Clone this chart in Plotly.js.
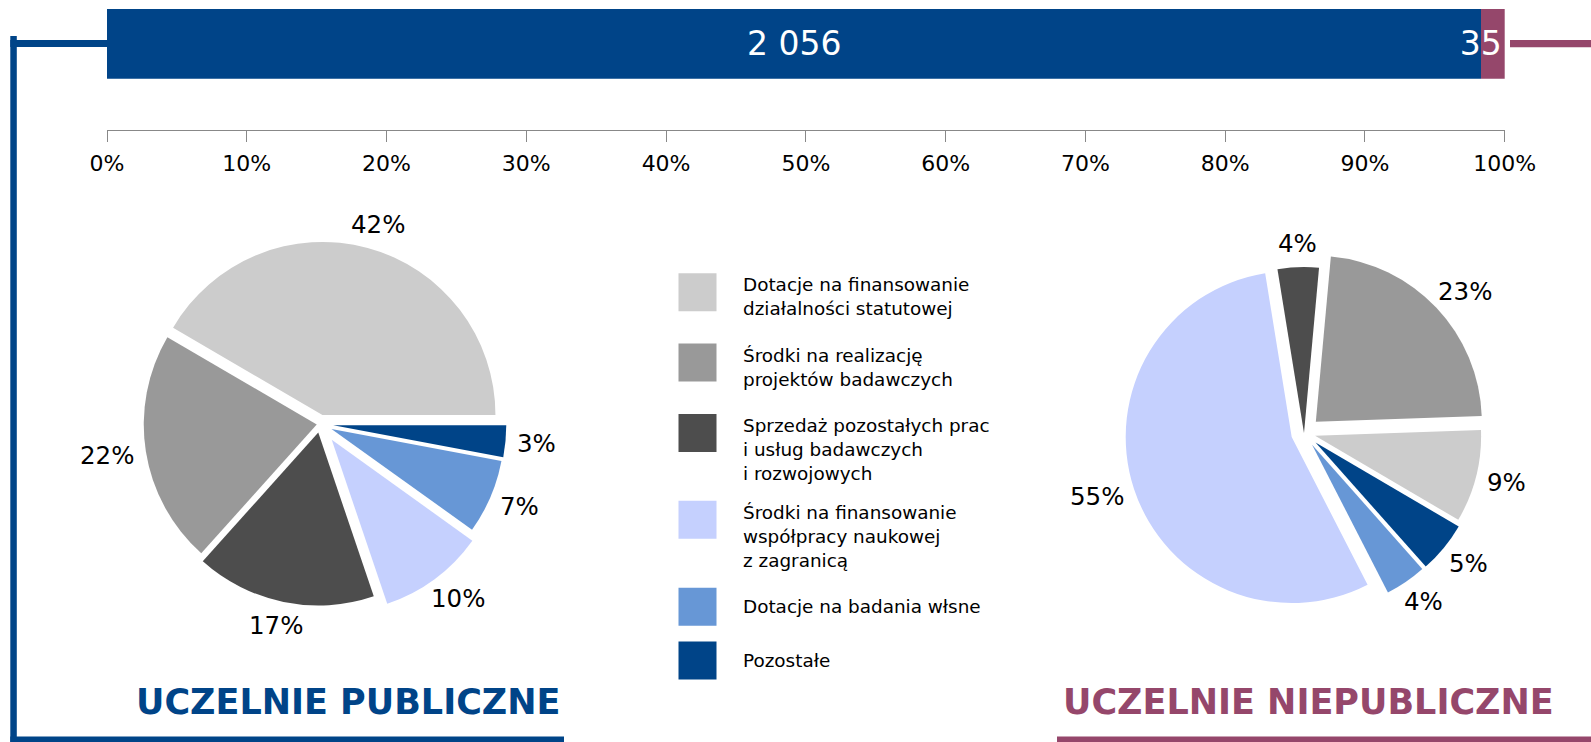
<!DOCTYPE html>
<html>
<head>
<meta charset="utf-8">
<script src="https://cdn.plot.ly/plotly-3.0.1.min.js"></script>
<style>
  html, body { margin: 0; padding: 0; background: #ffffff; }
  #chart { width: 1591px; height: 742px; }
</style>
</head>
<body>
<div id="chart"></div>
<script>
// ---------- DATA ----------
const categories = [
  'Dotacje na finansowanie<br>działalności statutowej',
  'Środki na realizację<br>projektów badawczych',
  'Sprzedaż pozostałych prac<br>i usług badawczych<br>i rozwojowych',
  'Środki na finansowanie<br>współpracy naukowej<br>z zagranicą',
  'Dotacje na badania włsne',
  'Pozostałe'
];
const publicShares  = [42, 22, 17, 10, 7, 3];   // UCZELNIE PUBLICZNE (%)
const privateShares = [9, 23, 4, 55, 4, 5];     // UCZELNIE NIEPUBLICZNE (%)
const groupNames  = ['UCZELNIE PUBLICZNE', 'UCZELNIE NIEPUBLICZNE'];
const groupCounts = [2056, 35];
const axisTicks   = [0, 10, 20, 30, 40, 50, 60, 70, 80, 90, 100];

// ---------- STYLE ----------
const W = 1591, H = 742;
const FONT = 'DejaVu Sans, Verdana, sans-serif';
const LABEL_SIZE = 24.5;
const sliceColors = ['#cccccc', '#999999', '#4d4d4d', '#c5d0fe', '#6797d6', '#004488'];
const groupColors = ['#004488', '#95476b'];
const publicPull  = [0.054, 0.019, 0.050, 0.114, 0.072, 0.077];
const privatePull = [0.069, 0.098, 0.0, 0.078, 0.086, 0.090];
const pieGeom = [
  { cx: 320,  cy: 424, r: 173, start: 0 },      // start angle: degrees, counter-clockwise from 3 o'clock
  { cx: 1304, cy: 433, r: 166, start: -30.4 }
];
const px = p => p / W;
const py = p => 1 - p / H;

const total = groupCounts.reduce((a, b) => a + b, 0);
const fmt = v => String(v).replace(/\B(?=(\d{3})+(?!\d))/g, ' ');

// ---------- TRACES ----------
const traces = [];
const annotations = [];

// stacked 100% bar
groupCounts.forEach((v, i) => {
  traces.push({
    type: 'bar',
    orientation: 'h',
    x: [v / total * 100],
    y: ['n'],
    name: groupNames[i],
    marker: { color: groupColors[i], line: { width: 0 } },
    text: [fmt(v)],
    textposition: 'inside',
    insidetextanchor: i === 0 ? 'middle' : 'end',
    constraintext: 'none',
    textangle: 0,
    insidetextfont: { family: FONT, size: 33, color: '#ffffff' },
    hoverinfo: 'skip',
    showlegend: false,
    cliponaxis: false,
    xaxis: 'x', yaxis: 'y'
  });
});

// pies
function addPie(values, pulls, g) {
  const sum = values.reduce((a, b) => a + b, 0);
  const maxPull = Math.max(...pulls);
  const box = 2 * g.r * (1 + maxPull);
  traces.push({
    type: 'pie',
    labels: categories,
    values: values,
    sort: false,
    direction: 'counterclockwise',
    rotation: 90 - g.start - 360 * values[0] / sum,
    pull: pulls,
    marker: { colors: sliceColors, line: { width: 0 } },
    textinfo: 'none',
    domain: { x: [px(g.cx - box / 2), px(g.cx + box / 2)], y: [py(g.cy + box / 2), py(g.cy - box / 2)] },
    hoverinfo: 'label+value',
    showlegend: false
  });
  // outside-end percentage labels, placed at each slice's mid angle
  let ang = g.start;
  values.forEach((v, i) => {
    const span = 360 * v / sum;
    const mid = (ang + span / 2) * Math.PI / 180;
    ang += span;
    const c = Math.cos(mid), s = Math.sin(mid);
    const txt = v + '%';
    const a = ((txt.length - 1) * 0.636 + 0.95) * LABEL_SIZE / 2;
    const b = 12;
    const R = g.r * (1 + pulls[i]) + 12;
    annotations.push({
      xref: 'paper', yref: 'paper',
      x: px(g.cx + R * c + a * c), y: py(g.cy - (R * s + b * s)),
      xanchor: 'center', yanchor: 'middle',
      text: txt, showarrow: false,
      font: { family: FONT, size: LABEL_SIZE, color: '#000000' }
    });
  });
}
addPie(publicShares, publicPull, pieGeom[0]);
addPie(privateShares, privatePull, pieGeom[1]);

// custom legend swatches (pixel-space hidden axes)
const lineCounts = categories.map(c => c.split('<br>').length);
const legTops = [];
let t = 273.3;
lineCounts.forEach((n) => { legTops.push(t); t += 37 + 16.65 * n; });
traces.push({
  type: 'scatter',
  mode: 'markers',
  x: categories.map(() => 697.5),
  y: legTops.map(v => v + 19),
  marker: { symbol: 'square', size: 38, color: sliceColors, line: { width: 0 } },
  hoverinfo: 'skip',
  showlegend: false,
  cliponaxis: false,
  xaxis: 'x2', yaxis: 'y2'
});

// ---------- ANNOTATIONS ----------
categories.forEach((c, i) => {
  const single = lineCounts[i] === 1;
  annotations.push({
    xref: 'paper', yref: 'paper',
    x: px(741), y: single ? py(legTops[i] + 19) : py(legTops[i] - 1),
    xanchor: 'left', yanchor: single ? 'middle' : 'top',
    text: c, align: 'left', showarrow: false,
    font: { family: FONT, size: 18.4, color: '#000000' }
  });
});
annotations.push({
  xref: 'paper', yref: 'paper', x: px(348), y: py(702), xanchor: 'center', yanchor: 'middle',
  text: '<b>' + groupNames[0] + '</b>', showarrow: false,
  font: { family: FONT, size: 35, color: groupColors[0] }
});
annotations.push({
  xref: 'paper', yref: 'paper', x: px(1308.5), y: py(702), xanchor: 'center', yanchor: 'middle',
  text: '<b>' + groupNames[1] + '</b>', showarrow: false,
  font: { family: FONT, size: 35, color: groupColors[1] }
});

// ---------- SHAPES (decorative brackets) ----------
function rect(x0, x1, y0, y1, color) {
  return { type: 'rect', xref: 'paper', yref: 'paper', x0: px(x0), x1: px(x1), y0: py(y1), y1: py(y0),
           fillcolor: color, line: { width: 0 }, layer: 'below' };
}
const shapes = [
  rect(10.3, 16.8, 36, 742, groupColors[0]),
  rect(10.3, 107, 40, 47, groupColors[0]),
  rect(10.3, 564, 736.5, 742, groupColors[0]),
  rect(1510, 1591, 40, 47.3, groupColors[1]),
  rect(1057, 1591, 736.5, 742, groupColors[1])
];

// ---------- LAYOUT ----------
const layout = {
  width: W, height: H,
  margin: { l: 0, r: 0, t: 0, b: 0, pad: 0 },
  paper_bgcolor: '#ffffff', plot_bgcolor: 'rgba(0,0,0,0)',
  font: { family: FONT, color: '#000000' },
  barmode: 'stack', bargap: 0,
  showlegend: false,
  xaxis: {
    domain: [px(107), px(1504.7)],
    range: [0, 100],
    anchor: 'free', position: py(130),
    tickvals: axisTicks,
    ticktext: axisTicks.map(v => v + '%'),
    showline: true, linecolor: '#888888', linewidth: 1,
    ticks: 'outside', ticklen: 11, tickwidth: 1, tickcolor: '#888888',
    ticklabelstandoff: 3,
    tickfont: { family: FONT, size: 22, color: '#000000' },
    showgrid: false, zeroline: false, fixedrange: true
  },
  yaxis: {
    domain: [py(78.7), py(9)],
    anchor: 'x',
    visible: false, fixedrange: true
  },
  xaxis2: { domain: [0, 1], range: [0, W], visible: false, anchor: 'y2', fixedrange: true },
  yaxis2: { domain: [0, 1], range: [H, 0], visible: false, anchor: 'x2', fixedrange: true },
  shapes: shapes,
  annotations: annotations
};

Plotly.newPlot('chart', traces, layout, { displayModeBar: false, staticPlot: true });
</script>
</body>
</html>
